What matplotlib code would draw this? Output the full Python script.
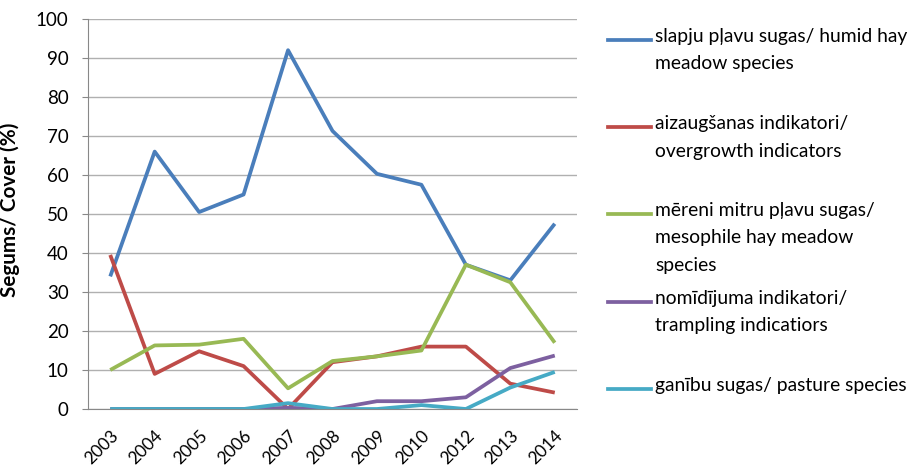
import matplotlib
matplotlib.use("Agg")
from matplotlib import pyplot as plt
from matplotlib.lines import Line2D

years = ["2003", "2004", "2005", "2006", "2007", "2008", "2009", "2010", "2012", "2013", "2014"]

humid = [34, 66, 50.5, 55, 92, 71.3, 60.3, 57.5, 37, 33, 47.5]
overgrowth = [39.5, 9, 14.8, 11, 0, 12, 13.5, 16, 16, 6.5, 4.2]
mesophile = [10, 16.3, 16.5, 18, 5.3, 12.3, 13.5, 15, 37, 32.5, 17]
trampling = [0, 0, 0, 0, 0.3, 0, 2, 2, 3, 10.5, 13.7]
pasture = [0, 0, 0, 0, 1.5, 0, 0, 1, 0, 5.5, 9.5]

labels = [
    "slapju pļavu sugas/ humid hay\nmeadow species",
    "aizaugšanas indikatori/\novergrowth indicators",
    "mēreni mitru pļavu sugas/\nmesophile hay meadow\nspecies",
    "nomīdījuma indikatori/\ntrampling indicatiors",
    "ganību sugas/ pasture species",
]
colors = ["#4A7EBB", "#BE4B48", "#98B954", "#7D60A0", "#46AAC5"]
series = [humid, overgrowth, mesophile, trampling, pasture]

plt.rcParams["font.family"] = ["Lato", "DejaVu Sans"]

fig = plt.figure(figsize=(9.08, 4.68), dpi=100)
ax = fig.add_axes([88 / 908, 1 - 409 / 468, (577 - 88) / 908, (409 - 19) / 468])

x = list(range(len(years)))
for values, color in zip(series, colors):
    ax.plot(x, values, color=color, linewidth=2.7, solid_capstyle="butt")

ax.set_xlim(-0.5, len(years) - 0.5)
ax.set_ylim(0, 100)
ax.set_yticks(range(0, 101, 10))
ax.set_xticks(x)
ax.set_xticklabels(years, rotation=45, ha="right", rotation_mode="anchor")
ax.tick_params(axis="y", labelsize=13.5, color="#888888", length=4, pad=10)
ax.tick_params(axis="x", labelsize=12.5, length=0, pad=13)
ax.grid(axis="y", color="#B0B0B0", linewidth=1)
ax.set_axisbelow(True)
for side in ["top", "right"]:
    ax.spines[side].set_visible(False)
for side in ["left", "bottom"]:
    ax.spines[side].set_color("#888888")

# y label sized to span about 174 px, like the original
ylab = ax.set_ylabel("Segums/ Cover (%)", fontsize=11, fontweight="bold")
fig.canvas.draw()
h = ylab.get_window_extent().height
ylab.set_fontsize(11 * 174 / h)
ax.yaxis.set_label_coords(-0.139, 0.51)

# legend drawn on the right
legend_y = [40, 127, 214, 302, 389]
for label, color, ly in zip(labels, colors, legend_y):
    fig.add_artist(Line2D([608 / 908, 651 / 908], [1 - ly / 468] * 2, color=color,
                          linewidth=2.7, transform=fig.transFigure))
    fig.text(655 / 908, 1 - (ly - 12) / 468, label, fontsize=13.9, va="top", ha="left",
             linespacing=1.75)

plt.savefig("out.png", dpi=100)
